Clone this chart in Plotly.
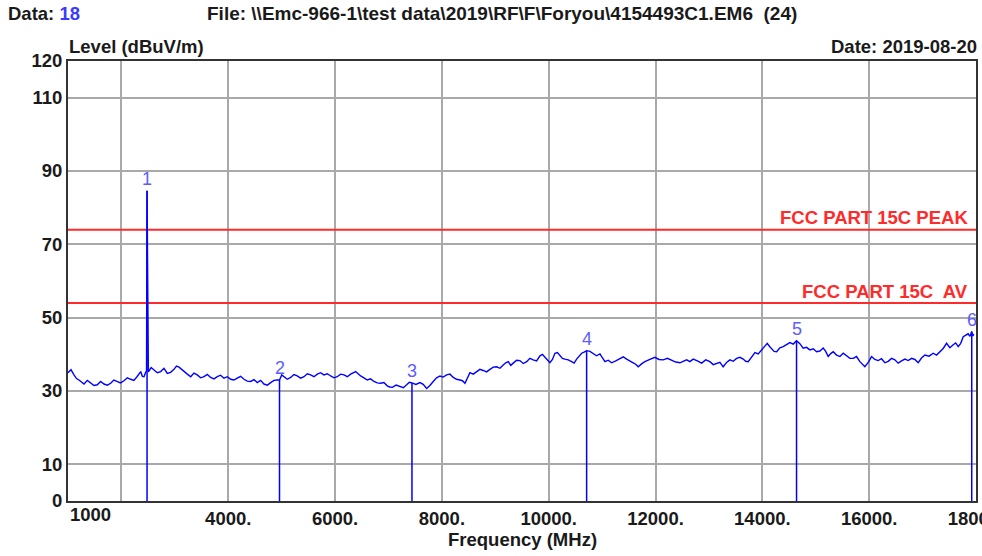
import plotly.graph_objects as go

# ---- data ----
# main trace readings (MHz, dBuV/m)
freq_a = [1000, 1112, 1206, 1300, 1425, 1548, 1674, 1799, 1917, 2048, 2174, 2292, 2361, 2423,
          2470, 2480, 2487, 2495, 2505, 2610, 2735, 2859, 2984, 3078, 3172, 3297, 3420, 3546,
          3671, 3795, 3920, 4046, 4169, 4295, 4420, 4544, 4669, 4795, 4918, 4960, 5044, 5169,
          5292, 5418, 5543, 5667, 5792, 5918, 6041, 6167, 6292, 6386, 6479, 6603, 6728, 6853,
          6977, 7071, 7215, 7341, 7440, 7589, 7714, 7838, 7964, 8089, 8213, 8338, 8432, 8525,
          8651, 8774, 8900, 9025, 9149, 9243, 9336, 9461, 9587, 9710, 9836, 9930, 10023, 10117,
          10210, 10304, 10429, 10523, 10617, 10710, 10834, 10959, 11053, 11178, 11333, 11459,
          11582, 11676, 11801, 11988, 12144, 12301, 12457, 12582, 12706, 12863, 13018, 13144,
          13267, 13393, 13518, 13642, 13735, 13861, 13986, 14091, 14173, 14267, 14390, 14516,
          14640, 14765, 14890, 15016, 15139, 15233, 15327, 15452, 15577, 15701, 15826, 15919,
          16045, 16168, 16294, 16419, 16543, 16669, 16794, 16918, 17043, 17199, 17324, 17449,
          17573, 17667, 17761, 17853, 17920, 17960]
level_a = [35.0, 34.4, 33.0, 31.9, 32.3, 31.7, 31.9, 32.1, 32.6, 32.8, 33.2, 33.9, 35.3, 33.9,
           35.5, 84.6, 58.5, 59.0, 35.2, 35.7, 35.3, 34.8, 35.9, 36.5, 35.3, 33.9, 34.4, 33.9,
           33.7, 33.9, 33.5, 33.2, 33.5, 33.2, 32.6, 32.3, 31.9, 32.3, 33.0, 33.0, 33.9, 33.7,
           34.1, 33.9, 34.4, 34.6, 34.4, 34.1, 33.9, 34.4, 34.6, 35.3, 34.1, 33.0, 32.6, 32.1,
           31.4, 31.0, 31.2, 31.7, 32.2, 32.3, 30.7, 32.6, 34.1, 34.4, 33.7, 33.0, 32.1, 35.0,
           35.3, 35.6, 35.9, 36.6, 37.1, 38.0, 37.6, 38.3, 38.0, 38.5, 39.6, 39.2, 37.7, 40.3,
           39.6, 38.7, 38.0, 38.7, 40.3, 41.0, 40.3, 40.1, 38.0, 37.7, 38.9, 38.7,
           37.7, 36.6, 38.0, 39.2, 38.5, 38.3, 37.7, 38.5, 38.7, 37.6, 38.0, 37.6,
           36.6, 38.5, 38.9, 38.7, 38.0, 40.5, 41.2, 43.0, 41.4, 40.7, 42.1, 43.2,
           43.7, 41.7, 41.2, 40.7, 41.7, 39.4, 40.7, 39.4, 39.6, 38.9, 38.0, 36.6,
           39.4, 38.3, 37.7, 38.9, 37.6, 38.7, 38.9, 37.7, 39.8, 40.3, 40.7, 43.0,
           42.6, 42.1, 44.8, 45.6, 46.2, 45.5]
# in-between readings of the noisy trace (MHz, dBuV/m)
freq_b = [1056, 1159, 1253, 1362, 1486, 1611, 1736, 1858, 1982, 2111, 2233, 2326, 2392, 2446,
          2557, 2672, 2797, 2921, 3031, 3125, 3234, 3358, 3483, 3608, 3733, 3857, 3983, 4107,
          4232, 4357, 4482, 4606, 4732, 4856, 5002, 5106, 5230, 5355, 5480, 5605, 5730, 5855,
          5980, 6104, 6230, 6339, 6432, 6541, 6665, 6790, 6915, 7024, 7143, 7278, 7390, 7514,
          7651, 7776, 7901, 8026, 8151, 8275, 8385, 8478, 8588, 8712, 8837, 8962, 9087, 9196,
          9290, 9398, 9524, 9648, 9773, 9883, 9976, 10070, 10163, 10257, 10366, 10476, 10570,
          10663, 10772, 10896, 11006, 11115, 11255, 11396, 11520, 11629, 11738, 11894, 12066,
          12222, 12379, 12519, 12644, 12784, 12940, 13081, 13205, 13330, 13455, 13580, 13688,
          13798, 13923, 14038, 14132, 14220, 14328, 14453, 14578, 14702, 14827, 14953, 15077,
          15186, 15280, 15389, 15514, 15639, 15763, 15872, 15982, 16106, 16231, 16356, 16481,
          16606, 16731, 16856, 16980, 17121, 17261, 17386, 17511, 17620, 17714, 17807, 17886,
          17940]
level_b = [35.8, 33.4, 32.4, 32.9, 31.5, 32.6, 31.6, 33.0, 32.2, 33.6, 32.9, 34.6, 34.0, 34.8,
           36.4, 35.0, 36.2, 35.1, 36.8, 36.0, 34.6, 34.9, 33.6, 34.5, 33.3, 34.3, 33.9, 33.0,
           34.0, 32.7, 33.1, 32.9, 31.6, 32.9, 34.4, 33.2, 34.5, 33.5, 34.7, 33.9, 35.0, 34.7,
           33.6, 34.6, 33.9, 34.9, 34.7, 33.6, 33.3, 32.2, 32.3, 31.1, 31.6, 30.9, 32.4, 31.8,
           31.8, 31.5, 33.6, 33.8, 34.6, 33.2, 32.8, 33.5, 34.6, 35.9, 35.2, 36.5, 36.2, 37.7,
           37.0, 38.4, 37.5, 38.9, 38.2, 40.0, 38.3, 38.6, 40.5, 38.9, 38.5, 37.6, 39.6,
           40.6, 40.8, 39.6, 39.0, 38.4, 38.2, 39.3, 38.1, 37.3, 37.4, 38.6, 38.6,
           38.9, 37.9, 38.2, 38.0, 38.2, 38.5, 37.2, 37.8, 37.8, 38.1, 39.2, 38.1,
           39.4, 40.1, 41.9, 42.2, 40.8, 41.8, 42.6, 42.8, 42.9, 41.9, 41.5, 40.9,
           40.8, 40.2, 39.8, 40.3, 38.9, 39.4, 37.3, 37.8, 38.6, 38.8, 38.1, 38.5,
           38.2, 38.3, 38.6, 39.0, 39.5, 39.8, 41.6, 41.8, 43.1, 43.0, 45.2, 44.9,
           45.0]

marker_ids = ["1", "2", "3", "4", "5", "6"]
marker_freq = [2480, 4960, 7440, 10710, 14640, 17920]
marker_level = [84.6, 33.0, 32.2, 41.0, 43.7, 46.2]

limit_names = ["FCC PART 15C PEAK", "FCC PART 15C\u00a0 AV"]
limit_levels = [74, 54]

x_tickvals = [1000, 2000, 4000, 6000, 8000, 10000, 12000, 14000, 16000, 18000]
x_ticktext = ["", "", "4000.", "6000.", "8000.", "10000.", "12000.", "14000.", "16000.", "18000."]
y_tickvals = [0, 10, 30, 50, 70, 90, 110, 120]
y_ticktext = ["0", "10", "30", "50", "70", "90", "110", "120"]

x_range = [1000, 18000]
y_range = [0, 120]

FONT = "Liberation Sans, Arial, sans-serif"
BLUE = "#0000ff"
RED = "#ff2a2a"
DARK = "#1a1a1a"

# merge the two sets of readings in frequency order
pairs = sorted(zip(freq_a + freq_b, level_a + level_b), key=lambda p: p[0])
trace_f = [p[0] for p in pairs]
trace_v = [p[1] for p in pairs]

fig = go.Figure()

for name, lv in zip(limit_names, limit_levels):
    fig.add_trace(go.Scatter(x=x_range, y=[lv, lv], mode="lines",
                             line=dict(color=RED, width=2), hoverinfo="skip"))

fig.add_trace(go.Scatter(x=trace_f, y=trace_v, mode="lines",
                         line=dict(color=BLUE, width=1.4)))

mx, my = [], []
for f, v in zip(marker_freq, marker_level):
    mx += [f, f, None]
    my += [v, 0, None]
fig.add_trace(go.Scatter(x=mx, y=my, mode="lines", line=dict(color=BLUE, width=1.5),
                         hoverinfo="skip"))

annotations = []
for mid, f, v in zip(marker_ids, marker_freq, marker_level):
    annotations.append(dict(x=f, y=v, xref="x", yref="y", text=mid, showarrow=False,
                            xanchor="center", yanchor="middle", yshift=12,
                            font=dict(family=FONT, size=18, color="#5c5cff")))
for name, lv in zip(limit_names, limit_levels):
    annotations.append(dict(x=0.9934, y=lv, xref="paper", yref="y", text=name, showarrow=False,
                            xanchor="right", yanchor="middle", yshift=12,
                            font=dict(family=FONT, size=18.5, color=RED, weight="bold")))

hdr = dict(family=FONT, size=18.5, color=DARK, weight="bold")
hdr_file = dict(family=FONT, size=19, color=DARK, weight="bold")
annotations += [
    dict(x=-0.068, y=1.107, xref="paper", yref="paper", xanchor="left", yanchor="middle",
         text="Data: <span style='color:#3a3aff'>18</span>", showarrow=False, font=hdr),
    dict(x=0.1509, y=1.107, xref="paper", yref="paper", xanchor="left", yanchor="middle",
         text="File: \\\\Emc-966-1\\test data\\2019\\RF\\F\\Foryou\\4154493C1.EM6\u00a0 (24)",
         showarrow=False, font=hdr_file),
    dict(x=-0.0011, y=1.034, xref="paper", yref="paper", xanchor="left", yanchor="middle",
         text="Level (dBuV/m)", showarrow=False, font=hdr),
    dict(x=1.0033, y=1.032, xref="paper", yref="paper", xanchor="right", yanchor="middle",
         text="Date: 2019-08-20", showarrow=False, font=hdr),
    dict(x=0.501, y=-0.0886, xref="paper", yref="paper", xanchor="center", yanchor="middle",
         text="Frequency (MHz)", showarrow=False, font=hdr),
    dict(x=x_range[0], y=-0.0318, xref="x", yref="paper", xanchor="left", yanchor="middle",
         text="1000", showarrow=False, font=hdr),
]

fig.update_layout(
    width=982, height=556,
    margin=dict(l=68, r=6, t=61, b=55, autoexpand=False),
    paper_bgcolor="white", plot_bgcolor="white",
    showlegend=False,
    annotations=annotations,
    font=dict(family=FONT, size=18.5, color=DARK),
)
fig.update_xaxes(range=x_range, tickmode="array", tickvals=x_tickvals, ticktext=x_ticktext,
                 showgrid=True, gridcolor="#a9a9a9", gridwidth=1.5, zeroline=False,
                 showline=True, linecolor="#333333", linewidth=2, mirror=True,
                 ticks="", ticklabeloverflow="allow", automargin=False,
                 tickfont=dict(family=FONT, size=18.5, color=DARK, weight="bold"))
fig.update_yaxes(range=y_range, tickmode="array", tickvals=y_tickvals, ticktext=y_ticktext,
                 showgrid=True, gridcolor="#a9a9a9", gridwidth=1.5, zeroline=False,
                 showline=True, linecolor="#333333", linewidth=2, mirror=True,
                 ticks="", ticklabelstandoff=0, automargin=False,
                 tickfont=dict(family=FONT, size=18.5, color=DARK, weight="bold"))

fig.write_html("out.html", config={"displayModeBar": False},
               post_script="document.body.style.margin='0px';document.body.style.overflow='hidden';")
